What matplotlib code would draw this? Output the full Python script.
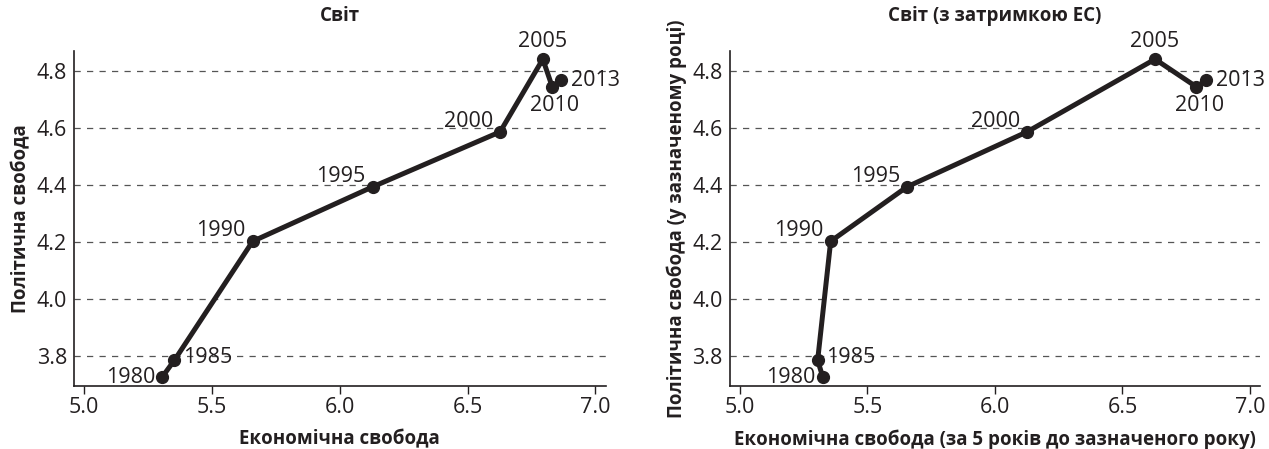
import numpy as np
import matplotlib.pyplot as plt

plt.rcParams['font.family'] = ['Open Sans', 'DejaVu Sans']

years = ['1980', '1985', '1990', '1995', '2000', '2005', '2010', '2013']
pol_free = [3.727, 3.786, 4.203, 4.394, 4.587, 4.842, 4.745, 4.768]
econ_free = [5.305, 5.353, 5.659, 6.128, 6.627, 6.794, 6.831, 6.867]
econ_lag = [5.325, 5.305, 5.356, 5.655, 6.126, 6.628, 6.790, 6.829]

ink = '#231f20'

# label offsets (points) and alignment for each year
offs = {
    '1980': ((-5, 0), 'right', 'center'),
    '1985': ((6, 2), 'left', 'center'),
    '1990': ((-5, 0), 'right', 'bottom'),
    '1995': ((-5, 0), 'right', 'bottom'),
    '2000': ((-5, 0), 'right', 'bottom'),
    '2005': ((0, 5), 'center', 'bottom'),
    '2010': ((2, -6), 'center', 'top'),
    '2013': ((7, 0), 'left', 'center'),
}

fig = plt.figure(figsize=(12.69, 4.49), dpi=100)
ax1 = fig.add_axes([0.0583, 0.140, 0.419, 0.746])
ax2 = fig.add_axes([0.575, 0.140, 0.418, 0.746])

def draw(ax, xs, title, xlabel, ylabel):
    for t in [3.8, 4.0, 4.2, 4.4, 4.6, 4.8]:
        ax.axhline(t, color='#555555', lw=0.9, ls=(0, (5, 5)), zorder=1)
    ax.plot(xs, pol_free, color=ink, lw=3.6, marker='o', ms=8.5, zorder=3)
    for x, y, yr in zip(xs, pol_free, years):
        (dx, dy), ha, va = offs[yr]
        ax.annotate(yr, (x, y), xytext=(dx, dy), textcoords='offset points',
                    ha=ha, va=va, fontsize=15.5, color=ink)
    ax.set_xlim(4.96, 7.04)
    ax.set_ylim(3.695, 4.87)
    ax.set_xticks([5.0, 5.5, 6.0, 6.5, 7.0])
    ax.set_yticks([3.8, 4.0, 4.2, 4.4, 4.6, 4.8])
    ax.set_xticklabels(['5.0', '5.5', '6.0', '6.5', '7.0'])
    ax.set_yticklabels(['3.8', '4.0', '4.2', '4.4', '4.6', '4.8'])
    ax.tick_params(axis='x', length=6, width=1, colors=ink, labelsize=15.5, pad=2)
    ax.tick_params(axis='y', length=0, colors=ink, labelsize=15.5, pad=5)
    for s in ['top', 'right']:
        ax.spines[s].set_visible(False)
    for s in ['left', 'bottom']:
        ax.spines[s].set_color(ink)
        ax.spines[s].set_linewidth(1.2)
    ax.set_title(title, fontsize=13.5, fontweight='bold', color=ink, pad=22)
    ax.set_xlabel(xlabel, fontsize=13.5, fontweight='bold', color=ink, labelpad=8)
    ax.set_ylabel(ylabel, fontsize=13.5, fontweight='bold', color=ink, labelpad=4)

draw(ax1, econ_free, 'Світ', 'Економічна свобода', 'Політична свобода')
draw(ax2, econ_lag, 'Світ (з затримкою ЕС)',
     'Економічна свобода (за 5 років до зазначеного року)',
     'Політична свобода (у зазначеному році)')

fig.savefig('out.png', dpi=100)
